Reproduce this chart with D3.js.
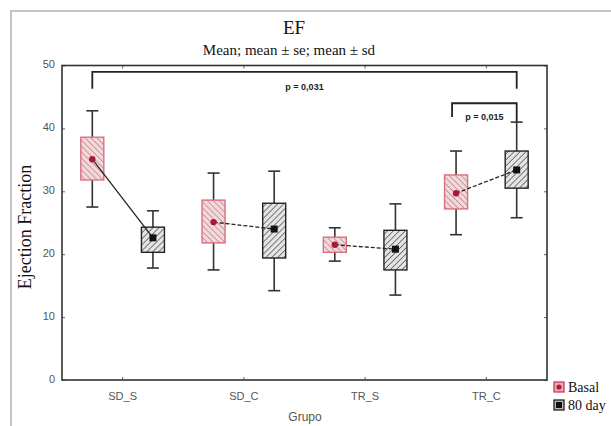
<!DOCTYPE html>
<html>
<head>
<meta charset="utf-8">
<script src="https://cdn.jsdelivr.net/npm/d3@7"></script>
<style>
  body { margin: 0; padding: 0; background: #fff; }
  svg { display: block; }
  .tick-label { font-family: Arial, "Liberation Sans", sans-serif; font-size: 11px; fill: #555; }
  .serif { font-family: "Liberation Serif", "DejaVu Serif", serif; fill: #111; }
  .pval { font-family: "Liberation Sans Narrow", Arial, sans-serif; font-size: 9px; font-weight: bold; fill: #222; }
</style>
</head>
<body>
<div id="chart"></div>
<script>
// data
const groups = ["SD_S", "SD_C", "TR_S", "TR_C"];
const series = ["Basal", "80 day"];
const yTicks = [0, 10, 20, 30, 40, 50];

// mean, box = mean +/- se, whiskers = mean +/- sd
const basalMean = [35.1, 25.1, 21.5, 29.7];
const basalBoxLo = [31.8, 21.8, 20.3, 27.2];
const basalBoxHi = [38.6, 28.6, 22.7, 32.6];
const basalWhiskLo = [27.5, 17.5, 18.9, 23.1];
const basalWhiskHi = [42.8, 32.9, 24.2, 36.4];

const dayMean = [22.6, 24.0, 20.8, 33.4];
const dayBoxLo = [20.3, 19.4, 17.5, 30.5];
const dayBoxHi = [24.3, 28.1, 23.8, 36.4];
const dayWhiskLo = [17.8, 14.2, 13.5, 25.8];
const dayWhiskHi = [26.9, 33.2, 28.0, 41.0];

const linkStyle = ["solid", "dashed", "dashed", "dashed"];

const brackets = [
  { from: ["SD_S", "Basal"], to: ["TR_C", "80 day"], level: 49.0, endLeft: 46.3, endRight: 46.3, label: "p = 0,031" },
  { from: ["TR_C", "Basal"], to: ["TR_C", "80 day"], level: 44.0, endLeft: 41.8, endRight: 41.0, label: "p = 0,015" }
];

const rows = [];
groups.forEach((g, i) => {
  rows.push({ group: g, series: "Basal", mean: basalMean[i], lo: basalBoxLo[i], hi: basalBoxHi[i], wlo: basalWhiskLo[i], whi: basalWhiskHi[i] });
  rows.push({ group: g, series: "80 day", mean: dayMean[i], lo: dayBoxLo[i], hi: dayBoxHi[i], wlo: dayWhiskLo[i], whi: dayWhiskHi[i] });
});

const W = 611, H = 426;
const margin = { left: 62, right: 64, top: 65.5, bottom: 46 };

const svg = d3.select("#chart").append("svg").attr("width", W).attr("height", H);

// hatching patterns
const defs = svg.append("defs");
function hatch(id, bg, stroke, angle) {
  const p = defs.append("pattern").attr("id", id).attr("patternUnits", "userSpaceOnUse")
    .attr("width", 4.2).attr("height", 4.2).attr("patternTransform", `rotate(${angle})`);
  p.append("rect").attr("width", 4.2).attr("height", 4.2).attr("fill", bg);
  p.append("line").attr("x1", 0).attr("y1", 0).attr("x2", 0).attr("y2", 4.2)
    .attr("stroke", stroke).attr("stroke-width", 1.4);
}
hatch("hBasal", "#f7d6da", "#a8868c", -45);
hatch("hDay", "#e4e4e4", "#4a4a4a", 45);

// outer light border
svg.append("path").attr("d", `M11,${H} L11,11 L${W},11`).attr("fill", "none")
  .attr("stroke", "#c4c4c4").attr("stroke-width", 2);

const x = d3.scaleBand().domain(groups).range([margin.left, W - margin.right]).padding(0);
const xs = d3.scalePoint().domain(series).range([0, x.bandwidth()]).padding(0.5);
const y = d3.scaleLinear().domain([0, 50]).range([H - margin.bottom, margin.top]);
const px = (g, s) => x(g) + xs(s);

const g = svg.append("g");

// axes (inside ticks on all four sides)
const axLeft = g.append("g").attr("transform", `translate(${margin.left},0)`)
  .call(d3.axisLeft(y).tickValues(yTicks).tickSize(-3).tickPadding(7));
const axRight = g.append("g").attr("transform", `translate(${W - margin.right},0)`)
  .call(d3.axisRight(y).tickValues(yTicks).tickSize(-3).tickFormat(""));
const axBottom = g.append("g").attr("transform", `translate(0,${H - margin.bottom})`)
  .call(d3.axisBottom(x).tickSize(-3).tickPadding(12));
const axTop = g.append("g").attr("transform", `translate(0,${margin.top})`)
  .call(d3.axisTop(x).tickSize(-3).tickFormat(""));
[axLeft, axRight, axBottom, axTop].forEach(a => {
  a.select(".domain").remove();
  a.selectAll(".tick line").attr("stroke", "#666");
  a.selectAll("text").attr("class", "tick-label").attr("fill", null);
});
axLeft.selectAll("text").attr("dy", "0.2em");

g.append("rect").attr("x", margin.left).attr("y", margin.top)
  .attr("width", W - margin.left - margin.right).attr("height", H - margin.top - margin.bottom)
  .attr("fill", "none").attr("stroke", "#333").attr("stroke-width", 1.6);

// titles
svg.append("text").attr("class", "serif").attr("x", 294).attr("y", 34)
  .attr("text-anchor", "middle").style("font-size", "19px").text("EF");
svg.append("text").attr("class", "serif").attr("x", 289).attr("y", 55)
  .attr("text-anchor", "middle").style("font-size", "15px").text("Mean; mean ± se; mean ± sd");
svg.append("text").attr("class", "serif").attr("transform", "translate(31,227) rotate(-90)")
  .attr("text-anchor", "middle").style("font-size", "18px").text("Ejection Fraction");
svg.append("text").attr("class", "tick-label").attr("x", 305).attr("y", 421)
  .attr("text-anchor", "middle").style("font-size", "12px").text("Grupo");

// whiskers and boxes
const bw = 23, cap = 12;
const marks = g.selectAll(".grp").data(rows).enter().append("g").attr("class", "grp");
marks.append("line")
  .attr("x1", d => px(d.group, d.series)).attr("x2", d => px(d.group, d.series))
  .attr("y1", d => y(d.whi)).attr("y2", d => y(d.wlo))
  .attr("stroke", "#333").attr("stroke-width", 1.6);
["whi", "wlo"].forEach(k => {
  marks.append("line")
    .attr("x1", d => px(d.group, d.series) - cap / 2).attr("x2", d => px(d.group, d.series) + cap / 2)
    .attr("y1", d => y(d[k])).attr("y2", d => y(d[k]))
    .attr("stroke", "#333").attr("stroke-width", 1.6);
});
marks.append("rect")
  .attr("x", d => px(d.group, d.series) - bw / 2).attr("width", bw)
  .attr("y", d => y(d.hi)).attr("height", d => y(d.lo) - y(d.hi))
  .attr("fill", d => d.series === "Basal" ? "url(#hBasal)" : "url(#hDay)")
  .attr("stroke", d => d.series === "Basal" ? "#d8707e" : "#222")
  .attr("stroke-width", 1.4);

// connecting lines between Basal and 80 day means
groups.forEach((grp, i) => {
  g.append("line")
    .attr("x1", px(grp, "Basal")).attr("y1", y(basalMean[i]))
    .attr("x2", px(grp, "80 day")).attr("y2", y(dayMean[i]))
    .attr("stroke", "#222").attr("stroke-width", 1.3)
    .attr("stroke-dasharray", linkStyle[i] === "dashed" ? "4,2" : null);
});

// mean markers
g.selectAll(".mB").data(rows.filter(d => d.series === "Basal")).enter().append("circle")
  .attr("cx", d => px(d.group, d.series)).attr("cy", d => y(d.mean)).attr("r", 3.2)
  .attr("fill", "#a8183a");
g.selectAll(".mD").data(rows.filter(d => d.series === "80 day")).enter().append("rect")
  .attr("x", d => px(d.group, d.series) - 3.5).attr("y", d => y(d.mean) - 3.5)
  .attr("width", 7).attr("height", 7).attr("fill", "#111");

// significance brackets
brackets.forEach(b => {
  const x1 = px(b.from[0], b.from[1]), x2 = px(b.to[0], b.to[1]);
  const off = b.from[0] === b.to[0] ? 4 : 0;
  g.append("path")
    .attr("d", `M${x1 - off},${y(b.endLeft)} V${y(b.level)} H${x2} V${y(b.endRight)}`)
    .attr("fill", "none").attr("stroke", "#222").attr("stroke-width", 1.8);
  g.append("text").attr("class", "pval")
    .attr("x", (x1 - off + x2) / 2).attr("y", y(b.level) + (off ? 17 : 18))
    .attr("text-anchor", "middle").text(b.label);
});

// legend
const leg = svg.append("g").attr("transform", "translate(554,382)");
series.forEach((s, i) => {
  const r = leg.append("g").attr("transform", `translate(0,${i * 18})`);
  r.append("rect").attr("width", 10).attr("height", 10)
    .attr("fill", i === 0 ? "#f0a8b4" : "#bbb").attr("stroke", i === 0 ? "#c03050" : "#111").attr("stroke-width", 1.2);
  if (i === 0) r.append("circle").attr("cx", 5).attr("cy", 5).attr("r", 2.6).attr("fill", "#b01c3c");
  else r.append("rect").attr("x", 2).attr("y", 2).attr("width", 6).attr("height", 6).attr("fill", "#111");
  r.append("text").attr("class", "serif").attr("x", 14).attr("y", 10)
    .style("font-size", "14px").text(s);
});
</script>
</body>
</html>
